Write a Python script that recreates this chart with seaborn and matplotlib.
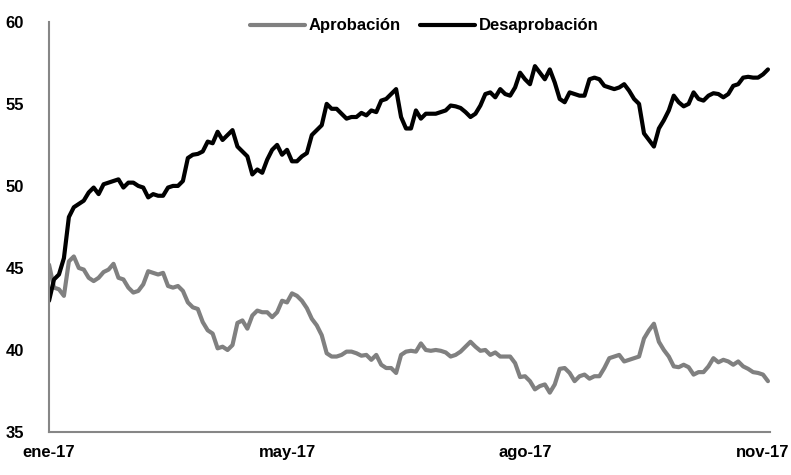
import matplotlib
matplotlib.use("Agg")
import matplotlib.pyplot as plt
import seaborn as sns
import pandas as pd

# series values (one point every ~5 px of the original chart)
aprobacion = [
    45.2, 43.8, 43.7, 43.3, 45.4, 45.7, 45.0, 44.9, 44.4, 44.2,
    44.4, 44.75, 44.9, 45.25, 44.4, 44.3, 43.8, 43.5, 43.6, 44.0,
    44.8, 44.7, 44.6, 44.7, 43.9, 43.8, 43.9, 43.6, 42.9, 42.6,
    42.5, 41.7, 41.2, 41.0, 40.1, 40.2, 40.0, 40.3, 41.65, 41.8,
    41.3, 42.1, 42.4, 42.3, 42.3, 42.0, 42.3, 43.0, 42.9, 43.45,
    43.3, 43.0, 42.55, 41.9, 41.5, 40.9, 39.8, 39.6, 39.6, 39.7,
    39.9, 39.9, 39.8, 39.65, 39.7, 39.4, 39.7, 39.1, 38.9, 38.9,
    38.6, 39.7, 39.9, 39.95, 39.9, 40.4, 40.0, 39.95, 40.0, 39.95,
    39.85, 39.6, 39.7, 39.9, 40.2, 40.5, 40.2, 39.95, 40.0, 39.7,
    39.85, 39.6, 39.6, 39.6, 39.2, 38.35, 38.4, 38.1, 37.6, 37.8,
    37.9, 37.4, 37.9, 38.85, 38.9, 38.6, 38.1, 38.4, 38.5, 38.25,
    38.4, 38.4, 38.9, 39.5, 39.6, 39.7, 39.3, 39.4, 39.5, 39.6,
    40.7, 41.2, 41.6, 40.5, 40.0, 39.6, 39.0, 38.95, 39.1, 38.95,
    38.5, 38.65, 38.65, 39.0, 39.5, 39.25, 39.4, 39.3, 39.1, 39.3,
    39.0, 38.85, 38.65, 38.6, 38.5, 38.1,
]

desaprobacion = [
    43.0, 44.3, 44.6, 45.6, 48.1, 48.7, 48.9, 49.1, 49.6, 49.9,
    49.5, 50.1, 50.2, 50.3, 50.4, 49.9, 50.2, 50.2, 50.0, 49.9,
    49.3, 49.5, 49.4, 49.4, 49.9, 50.0, 50.0, 50.3, 51.7, 51.9,
    51.95, 52.1, 52.7, 52.6, 53.3, 52.8, 53.1, 53.4, 52.4, 52.1,
    51.8, 50.7, 51.0, 50.8, 51.6, 52.2, 52.5, 51.9, 52.2, 51.5,
    51.5, 51.8, 52.0, 53.1, 53.4, 53.7, 55.0, 54.7, 54.7, 54.4,
    54.1, 54.2, 54.2, 54.45, 54.3, 54.6, 54.5, 55.2, 55.3, 55.6,
    55.9, 54.2, 53.5, 53.5, 54.6, 54.1, 54.4, 54.4, 54.4, 54.5,
    54.6, 54.9, 54.85, 54.75, 54.5, 54.2, 54.4, 54.9, 55.6, 55.7,
    55.4, 55.9, 55.6, 55.5, 56.0, 56.9, 56.5, 56.2, 57.3, 56.9,
    56.5, 57.1, 56.3, 55.3, 55.1, 55.7, 55.6, 55.5, 55.5, 56.5,
    56.6, 56.5, 56.1, 56.0, 55.9, 56.0, 56.2, 55.8, 55.3, 55.0,
    53.2, 52.8, 52.4, 53.5, 54.0, 54.6, 55.5, 55.1, 54.85, 55.0,
    55.7, 55.3, 55.2, 55.5, 55.65, 55.6, 55.4, 55.6, 56.1, 56.2,
    56.6, 56.65, 56.6, 56.6, 56.8, 57.1,
]

tick_pos = [0, 48, 96, 144]
tick_labels = ["ene-17", "may-17", "ago-17", "nov-17"]

df = pd.DataFrame({
    "t": list(range(len(aprobacion))) * 2,
    "valor": aprobacion + desaprobacion,
    "serie": ["Aprobación"] * len(aprobacion) + ["Desaprobación"] * len(desaprobacion),
})

sns.set_style("white")
plt.rcParams["font.family"] = ["Liberation Sans", "DejaVu Sans"]
plt.rcParams["font.weight"] = "bold"
plt.rcParams["text.color"] = "black"

fig = plt.figure(figsize=(7.91, 4.75), dpi=100)
ax = fig.add_axes([0.062, 0.0905, 0.912, 0.8635])

sns.lineplot(data=df, x="t", y="valor", hue="serie",
             palette={"Aprobación": "#808080", "Desaprobación": "#000000"},
             linewidth=3, ax=ax)

ax.set_xlim(0, 145.5)
ax.set_ylim(35, 60)
ax.set_yticks([35, 40, 45, 50, 55, 60])
ax.set_xticks(tick_pos)
ax.set_xticklabels(tick_labels)
ax.set_xlabel("")
ax.set_ylabel("")

for s in ["top", "right"]:
    ax.spines[s].set_visible(False)
for s in ["left", "bottom"]:
    ax.spines[s].set_color("#868686")
    ax.spines[s].set_linewidth(1.5)

ax.tick_params(axis="both", direction="out", length=6, width=1.2,
               color="#868686", labelcolor="black", labelsize=12, pad=3)
ax.tick_params(axis="y", pad=12)
for lab in ax.get_xticklabels() + ax.get_yticklabels():
    lab.set_fontweight("bold")

leg = ax.legend(loc="upper center", bbox_to_anchor=(0.52, 1.045), ncol=2,
                frameon=False, handlelength=3.3, columnspacing=1.2,
                handletextpad=0.2, prop={"size": 12, "weight": "bold"})
for t in leg.get_texts():
    t.set_color("black")

fig.savefig("out.png", dpi=100)
